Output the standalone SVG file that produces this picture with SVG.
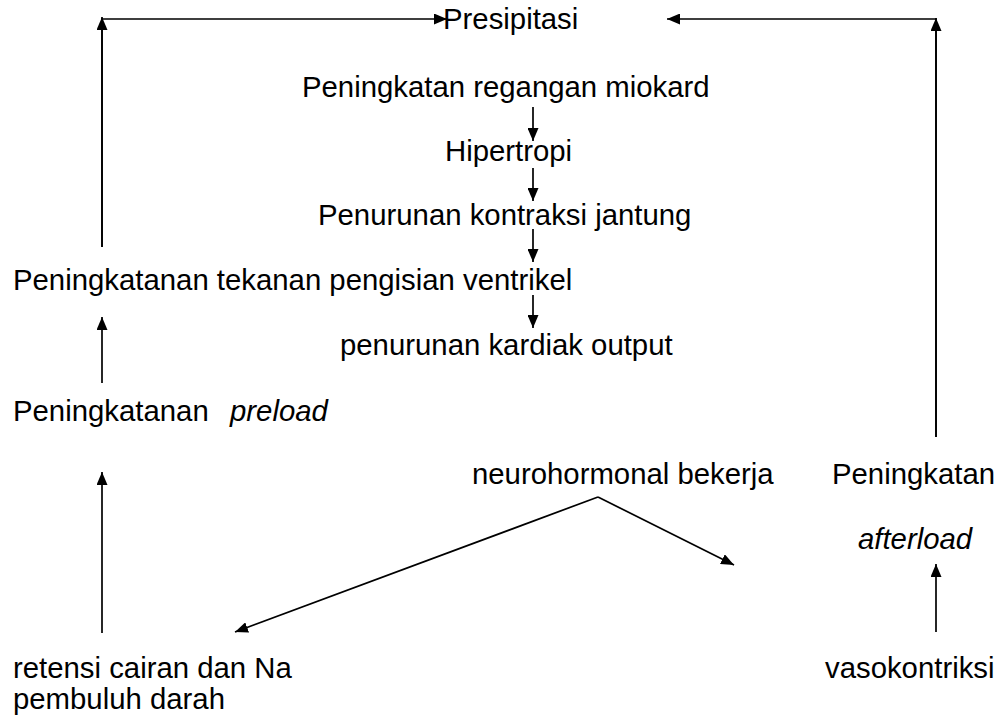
<svg xmlns="http://www.w3.org/2000/svg" width="1003" height="723" viewBox="0 0 1003 723">
<style>
text{font-family:"Liberation Sans",Arial,sans-serif;font-size:29.33px;fill:#000}
.it{font-style:italic}
.c line,.c polyline{stroke:#000;stroke-width:1.7;fill:none}
</style>
<defs>
<marker id="ah" viewBox="0 0 13 11" refX="13" refY="5.5" markerWidth="13" markerHeight="11" markerUnits="userSpaceOnUse" orient="auto">
<path d="M0,0 L13,5.5 L0,11 z" fill="#000"/>
</marker>
</defs>
<rect width="1003" height="723" fill="#fff"/>
<g class="c" id="connectors">
<polyline points="102,247 102,19 447,19" marker-end="url(#ah)"/>
<line x1="102" y1="247" x2="102" y2="17" marker-end="url(#ah)"/>
<polyline points="936,437 936,19 667,19" marker-end="url(#ah)"/>
<line x1="936" y1="437" x2="936" y2="18" marker-end="url(#ah)"/>
<line x1="533" y1="107" x2="533" y2="141" marker-end="url(#ah)"/>
<line x1="533" y1="168" x2="533" y2="201" marker-end="url(#ah)"/>
<line x1="533" y1="229" x2="533" y2="262" marker-end="url(#ah)"/>
<line x1="533" y1="295" x2="533" y2="328" marker-end="url(#ah)"/>
<line x1="102" y1="383" x2="102" y2="317" marker-end="url(#ah)"/>
<line x1="102" y1="633" x2="102" y2="472" marker-end="url(#ah)"/>
<line x1="936" y1="632" x2="936" y2="564" marker-end="url(#ah)"/>
<line x1="598" y1="497" x2="235" y2="632" marker-end="url(#ah)"/>
<line x1="598" y1="497" x2="734" y2="565" marker-end="url(#ah)"/>
</g>
<g id="n-presipitasi"><text x="443" y="29">Presipitasi</text></g>
<g id="n-regangan"><text x="302" y="97">Peningkatan regangan miokard</text></g>
<g id="n-hipertropi"><text x="445" y="161">Hipertropi</text></g>
<g id="n-kontraksi"><text x="318" y="225">Penurunan kontraksi jantung</text></g>
<g id="n-tekanan"><text x="13" y="290">Peningkatanan tekanan pengisian ventrikel</text></g>
<g id="n-output"><text x="340" y="355">penurunan kardiak output</text></g>
<g id="n-preload"><text x="13" y="421">Peningkatanan</text><text class="it" x="230" y="421">preload</text></g>
<g id="n-neuro"><text x="472" y="484">neurohormonal bekerja</text></g>
<g id="n-afterload"><text x="832" y="484">Peningkatan</text><text class="it" x="858" y="549">afterload</text></g>
<g id="n-retensi"><text x="13" y="678">retensi cairan dan Na</text><text x="13" y="709">pembuluh darah</text></g>
<g id="n-vaso"><text x="825" y="678">vasokontriksi</text></g>
</svg>
